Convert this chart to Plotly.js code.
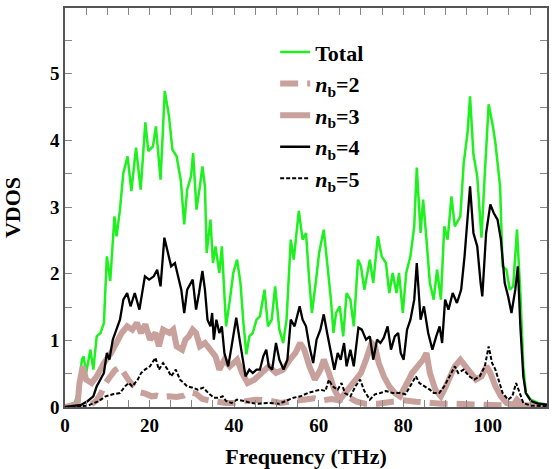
<!DOCTYPE html>
<html>
<head>
<meta charset="utf-8">
<script src="https://cdn.plot.ly/plotly-3.0.1.min.js"></script>
<style>html,body{margin:0;padding:0;background:#fff;}#chart{width:553px;height:469px;}</style>
</head>
<body>
<div id="chart"></div>
<script>
// [frequency (THz), VDOS] pairs
const totalPoints = [[0,0],[2.1,0.03],[3.1,0.21],[4.0,0.71],[4.4,0.76],[5.0,0.51],[6.0,0.86],[6.7,0.56],[7.5,1.06],[8.4,1.11],[9.2,1.26],[9.9,2.26],[10.7,1.89],[11.7,2.86],[12.2,2.56],[13.0,2.96],[13.8,3.51],[14.8,3.76],[15.7,3.24],[16.8,3.89],[17.9,3.26],[19.0,4.27],[19.7,3.84],[20.8,3.91],[21.5,4.21],[22.6,3.41],[23.6,4.74],[24.6,4.36],[25.4,3.86],[26.4,3.76],[27.4,3.39],[28.2,2.74],[28.9,3.26],[29.8,3.46],[30.3,3.81],[31.1,2.96],[31.9,3.31],[32.5,3.61],[33.1,3.31],[33.5,2.31],[34.4,2.81],[35.0,2.16],[35.6,2.41],[36.5,2.01],[37.1,2.41],[38.1,1.21],[39.0,1.61],[39.8,2.01],[40.7,2.21],[41.5,1.86],[42.2,1.26],[42.9,0.79],[43.6,1.06],[44.4,1.11],[45.3,1.31],[46.1,1.36],[47.2,1.76],[48.0,1.21],[48.9,1.31],[49.7,1.81],[50.7,1.16],[51.6,0.96],[52.4,1.31],[53.4,2.51],[54.1,2.21],[55.3,2.94],[56.2,2.51],[57.0,2.61],[57.7,1.96],[58.4,1.41],[59.3,1.86],[60.1,2.31],[61.2,2.66],[62.0,2.16],[62.9,1.61],[63.5,1.11],[64.1,1.41],[65.0,1.51],[65.8,1.06],[66.6,1.71],[67.5,1.61],[68.3,1.21],[69.3,2.21],[70.0,2.11],[70.8,1.76],[72.1,2.21],[72.9,1.86],[74.0,2.56],[74.9,2.26],[75.9,2.16],[76.7,1.71],[77.5,2.01],[78.4,1.71],[79.0,2.01],[79.9,1.41],[80.7,2.01],[81.7,2.26],[82.6,2.71],[83.2,3.59],[84.1,2.61],[84.7,3.11],[85.5,2.51],[86.3,1.86],[87.2,1.61],[88.0,2.06],[88.9,1.61],[89.7,2.71],[90.5,2.51],[91.4,3.16],[92.2,2.71],[93.5,2.86],[94.3,3.66],[95.2,4.11],[95.8,4.66],[96.6,3.79],[97.5,3.46],[98.5,2.54],[99.3,3.51],[100.2,4.54],[101.2,4.21],[101.8,3.96],[102.9,3.31],[103.5,2.11],[104.4,2.06],[105.2,1.76],[106.0,1.81],[106.9,2.66],[107.7,1.71],[108.4,0.61],[109.0,0.21],[110.2,0.11],[111.9,0.06],[114.7,0.03]];

const nb2Points = [[0,0],[4,0],[6,0.03],[7.5,0.1],[8.5,0.2],[9.5,0.35],[10.6,0.45],[11.8,0.55],[13.0,0.6],[14.2,0.48],[15.3,0.38],[16.5,0.3],[17.7,0.22],[19,0.2],[20.5,0.16],[21.7,0.17],[23,0.15],[24.5,0.16],[26.4,0.15],[28,0.17],[29.5,0.22],[31,0.2],[32.5,0.12],[34,0.1],[36,0.07],[38,0.06],[40,0.06],[43,0.09],[45,0.11],[48,0.1],[51,0.06],[54,0.09],[57,0.11],[59,0.13],[61,0.1],[63,0.12],[65,0.1],[67,0.15],[69,0.08],[71,0.05],[74,0.05],[77,0.08],[80,0.1],[83,0.08],[86,0.06],[89,0.05],[92,0.05],[95,0.04],[98,0.04],[101,0.03],[104,0.02],[107,0.01],[110,0.01],[114.7,0]];

const nb3Points = [[0,0],[3.0,0.05],[3.4,0.35],[4.2,0.61],[5.0,0.41],[6.3,0.36],[7.5,0.46],[9.2,0.66],[10.9,0.81],[12.2,0.96],[13.4,1.11],[14.7,1.21],[15.9,1.16],[17.0,1.26],[18.0,1.11],[19.0,1.24],[20.1,1.01],[21.4,1.11],[22.2,0.91],[23.2,1.16],[24.7,1.11],[25.6,1.16],[26.4,0.91],[27.7,0.86],[28.5,1.01],[29.3,1.06],[30.2,1.16],[31.0,1.11],[31.9,0.91],[33.1,0.96],[34.4,0.86],[35.6,0.76],[36.5,0.56],[37.7,0.71],[39.0,0.61],[40.7,0.71],[41.9,0.51],[43.2,0.36],[44.8,0.41],[46.5,0.51],[48.2,0.61],[49.9,0.51],[51.6,0.56],[53.2,0.71],[54.5,0.81],[55.6,0.96],[56.6,0.86],[57.8,0.61],[59.1,0.41],[60.4,0.56],[61.2,0.71],[62.4,0.51],[63.7,0.26],[65.0,0.11],[66.2,0.21],[67.5,0.31],[68.7,0.41],[70.0,0.51],[71.2,0.71],[72.5,0.96],[73.3,0.91],[74.2,0.66],[75.4,0.46],[76.7,0.31],[78.0,0.21],[79.2,0.16],[80.9,0.36],[82.1,0.51],[83.4,0.61],[84.7,0.71],[85.5,0.81],[86.3,0.51],[87.6,0.26],[88.9,0.16],[89.7,0.26],[91.0,0.46],[92.2,0.61],[93.5,0.71],[94.7,0.61],[96.0,0.51],[97.2,0.41],[98.5,0.46],[99.7,0.61],[100.6,0.51],[101.8,0.31],[103.1,0.16],[104.4,0.06],[106.0,0.03],[106.9,0.11],[108.1,0.03],[114.7,0.01]];

const nb4Points = [[0,0],[3.8,0.03],[5.4,0.09],[6.7,0.16],[7.5,0.31],[8.4,0.41],[9.2,0.51],[9.9,0.81],[10.5,0.71],[11.3,1.01],[12.2,1.16],[13.0,1.31],[13.8,1.61],[14.7,1.71],[15.5,1.51],[16.5,1.71],[17.6,1.46],[18.9,1.96],[19.9,1.91],[21.0,1.96],[21.8,2.06],[22.6,1.81],[23.5,2.54],[24.3,2.31],[25.1,2.11],[26.0,2.16],[26.8,1.96],[27.5,1.76],[28.2,1.41],[28.9,1.76],[30.2,1.91],[31.0,1.46],[31.7,1.71],[32.5,2.04],[33.1,1.76],[33.7,1.31],[34.4,1.21],[34.8,1.41],[35.2,1.01],[35.8,1.31],[36.5,1.11],[37.1,1.21],[37.7,0.81],[38.6,0.61],[39.4,0.91],[40.5,1.34],[41.3,1.01],[42.2,0.61],[42.7,0.46],[43.6,0.56],[44.4,0.51],[45.3,0.56],[46.1,0.56],[46.9,0.76],[47.6,0.86],[48.2,0.61],[49.0,0.56],[49.9,0.96],[50.7,0.71],[51.7,0.56],[52.6,0.71],[53.4,1.31],[54.3,1.21],[55.5,1.51],[56.2,1.31],[57.0,1.21],[57.8,0.91],[58.7,0.66],[59.5,1.01],[60.4,1.16],[61.2,1.39],[62.0,1.11],[62.9,0.81],[63.7,0.56],[64.5,0.81],[65.2,0.71],[66.0,0.96],[66.6,0.61],[67.5,0.86],[68.3,0.61],[69.4,1.19],[70.2,1.16],[71.2,1.01],[72.1,1.06],[72.9,0.71],[73.8,1.01],[74.6,0.96],[75.4,1.04],[76.3,1.21],[77.1,0.86],[78.0,1.06],[78.8,1.11],[79.4,0.81],[80.1,0.71],[80.9,1.16],[81.7,1.31],[82.6,1.61],[83.2,2.16],[84.1,1.31],[84.9,1.51],[85.9,1.11],[86.9,0.86],[87.8,1.06],[88.6,1.21],[89.2,0.96],[89.9,1.61],[90.7,1.46],[91.7,1.71],[92.7,1.56],[93.7,1.76],[94.5,2.26],[95.1,2.71],[95.8,3.31],[96.6,2.61],[97.5,2.41],[98.3,1.86],[98.7,1.66],[99.6,2.61],[100.6,3.04],[101.4,2.91],[102.3,2.81],[103.1,2.51],[104.0,1.86],[104.8,1.66],[105.6,1.41],[106.5,1.76],[107.1,2.11],[107.7,1.21],[108.4,0.46],[109.0,0.21],[110.2,0.09],[111.9,0.05],[114.7,0.03]];

const nb5Points = [[0,0],[5.4,0.02],[8.0,0.09],[9.6,0.16],[11.3,0.19],[13.0,0.21],[14.2,0.31],[15.1,0.36],[15.9,0.31],[17.2,0.41],[18.0,0.51],[18.9,0.56],[20.1,0.61],[21.4,0.74],[22.2,0.56],[23.2,0.66],[24.3,0.56],[25.1,0.46],[26.2,0.56],[27.2,0.41],[28.1,0.36],[28.9,0.31],[30.2,0.29],[31.4,0.26],[32.7,0.29],[33.9,0.21],[35.2,0.14],[36.5,0.14],[37.3,0.16],[38.1,0.09],[39.4,0.06],[40.7,0.11],[42.3,0.09],[44.0,0.06],[45.7,0.05],[48.2,0.06],[50.7,0.05],[52.4,0.09],[54.1,0.14],[55.7,0.16],[57.4,0.21],[59.1,0.24],[60.4,0.26],[61.6,0.24],[62.4,0.41],[63.3,0.31],[64.5,0.26],[65.4,0.36],[66.2,0.21],[67.5,0.16],[68.7,0.31],[69.8,0.41],[70.8,0.24],[72.1,0.11],[73.3,0.19],[74.6,0.21],[75.9,0.24],[77.5,0.21],[79.2,0.21],[80.5,0.19],[81.7,0.31],[83.0,0.46],[83.8,0.36],[85.1,0.31],[86.3,0.26],[87.2,0.21],[88.5,0.21],[89.7,0.31],[91.0,0.46],[92.2,0.61],[93.0,0.51],[94.3,0.56],[95.6,0.46],[96.8,0.41],[98.1,0.46],[99.3,0.61],[100.2,0.91],[101.0,0.66],[101.8,0.56],[102.7,0.36],[103.5,0.21],[104.8,0.11],[105.8,0.16],[106.7,0.36],[107.5,0.21],[108.4,0.06],[110.2,0.02],[114.7,0.01]];

const seriesNames = ["<b>Total</b>", "<b><i>n</i><sub>b</sub>=2</b>", "<b><i>n</i><sub>b</sub>=3</b>", "<b><i>n</i><sub>b</sub>=4</b>", "<b><i>n</i><sub>b</sub>=5</b>"];

const GREEN = "#1ff01f";
const ROSY = "#c8a19c";
const FONT = "Liberation Serif";

function tr(points, name, line) {
  return {
    x: points.map(p => p[0]),
    y: points.map(p => p[1]),
    name: name,
    type: "scatter",
    mode: "lines",
    line: line,
    hoverinfo: "skip"
  };
}

const data = [
  tr(totalPoints, seriesNames[0], {color: GREEN, width: 2.5}),
  tr(nb2Points, seriesNames[1], {color: ROSY, width: 6, dash: "18px,9px"}),
  tr(nb3Points, seriesNames[2], {color: ROSY, width: 6}),
  tr(nb4Points, seriesNames[3], {color: "#000", width: 2.3}),
  tr(nb5Points, seriesNames[4], {color: "#000", width: 2, dash: "4px,2px"})
];

const axisCommon = {
  showgrid: false,
  zeroline: false,
  showline: true,
  linecolor: "#555",
  linewidth: 1.5,
  mirror: "allticks",
  ticks: "inside",
  ticklen: 7,
  tickcolor: "#888",
  tickfont: {family: FONT, size: 19, color: "#000", weight: 700}
};

const layout = {
  width: 553,
  height: 469,
  margin: {l: 65, r: 6, t: 8, b: 62},
  paper_bgcolor: "#fff",
  plot_bgcolor: "#fff",
  font: {family: FONT, color: "#000"},
  showlegend: true,
  legend: {
    x: 0.436, y: 0.942, xanchor: "left", yanchor: "top",
    bgcolor: "rgba(0,0,0,0)",
    font: {family: FONT, size: 22, color: "#000"},
    tracegroupgap: 0
  },
  xaxis: Object.assign({}, axisCommon, {
    range: [0, 114],
    tickmode: "linear",
    tick0: 0,
    dtick: 20,
    minor: {tickmode: "linear", tick0: 0, dtick: 5, ticks: "inside", ticklen: 7, tickcolor: "#888"},
    title: {text: "<b>Frequency (THz)</b>", font: {family: FONT, size: 22, color: "#000"}}
  }),
  yaxis: Object.assign({}, axisCommon, {
    range: [0, 5.985],
    tickmode: "linear",
    tick0: 0,
    dtick: 1,
    minor: {tickmode: "linear", tick0: 0, dtick: 0.5, ticks: "inside", ticklen: 7, tickcolor: "#888"},
    title: {text: "<b>VDOS</b>", font: {family: FONT, size: 22, color: "#000"}}
  })
};

Plotly.newPlot("chart", data, layout, {displayModeBar: false});
</script>
</body>
</html>
